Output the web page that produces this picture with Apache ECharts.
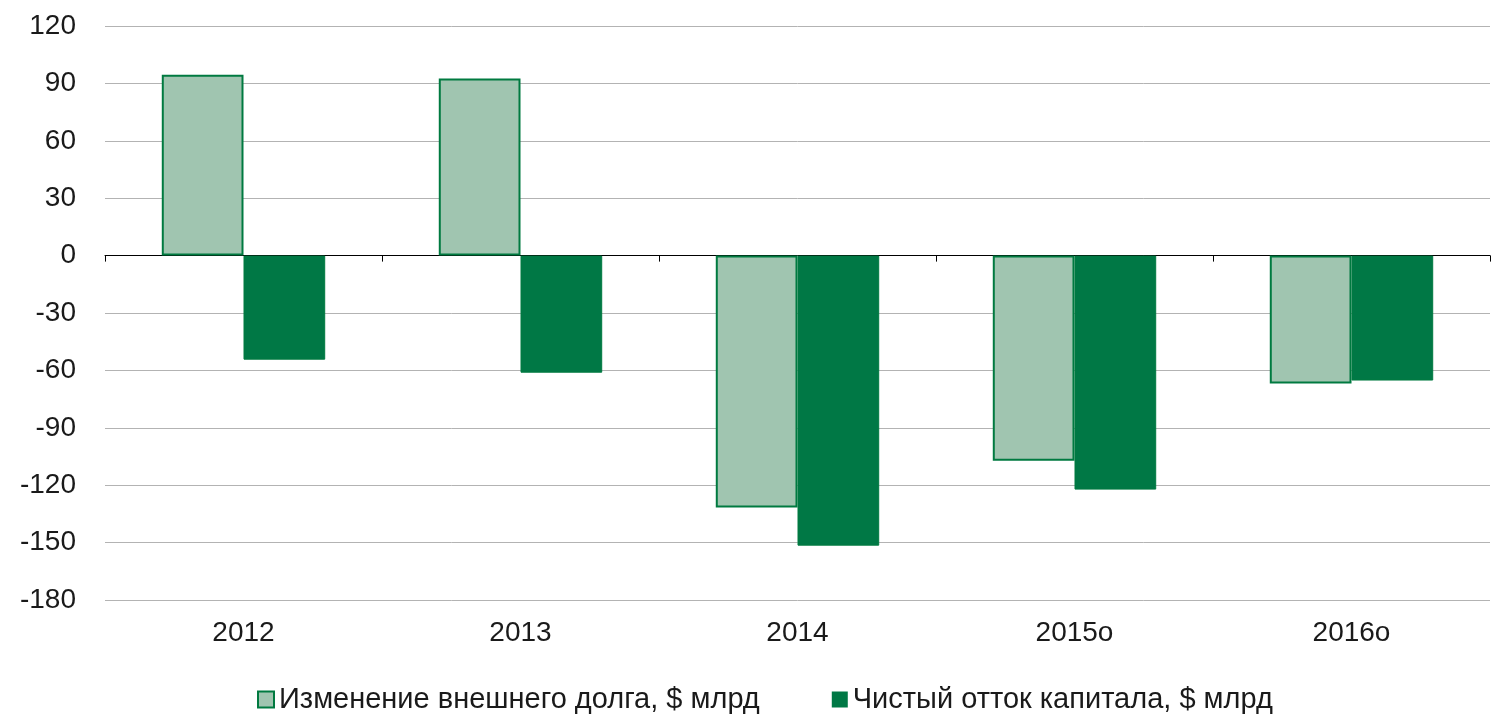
<!DOCTYPE html>
<html>
<head>
<meta charset="utf-8">
<script src="https://cdn.jsdelivr.net/npm/echarts@6/dist/echarts.min.js"></script>
<style>
  html, body { margin: 0; padding: 0; background: #fff; }
  #chart { width: 1497px; height: 717px; }
</style>
</head>
<body>
<div id="chart"></div>
<script>
'use strict';

// ---- data ----
const years = ['2012', '2013', '2014', '2015о', '2016о'];
const debtChange = [94.5, 92.5, -131.7, -107.2, -66.9];
const capitalOutflow = [-54.4, -61.2, -151.6, -122.3, -65.3];
const seriesNames = ['Изменение внешнего долга, $ млрд', 'Чистый отток капитала, $ млрд'];

// ---- palette ----
const C = { light: '#a0c5b0', dark: '#007845', edge: '#007a40', grid: '#b3b3b3', ink: '#1a1a1a' };
const font = 'Liberation Sans, Arial, sans-serif';

const chart = echarts.init(document.getElementById('chart'));
chart.setOption({
  animation: false,
  textStyle: { fontFamily: font },
  grid: { left: 105, right: 7, top: 26, bottom: 117 },
  legend: {
    bottom: -2, left: 252, itemGap: 72, itemWidth: 16, itemHeight: 16,
    textStyle: { fontFamily: font, fontSize: 29, color: C.ink },
    data: [
      { name: seriesNames[0], icon: 'rect', itemStyle: { color: C.light, borderColor: C.edge, borderWidth: 2 } },
      { name: seriesNames[1], icon: 'rect', itemStyle: { color: C.dark, borderWidth: 0 } },
    ],
  },
  xAxis: [
    { type: 'category', data: years,
      axisLine: { onZero: true, lineStyle: { color: '#000', width: 1 } },
      axisTick: { show: true, length: 6, lineStyle: { color: '#000' } },
      axisLabel: { show: false } },
    { type: 'category', data: years, position: 'bottom',
      axisLine: { show: false, onZero: false }, axisTick: { show: false },
      axisLabel: { fontFamily: font, fontSize: 28, color: C.ink, margin: 19 } },
  ],
  yAxis: {
    type: 'value', min: -180, max: 120, interval: 30,
    axisLine: { show: false }, axisTick: { show: false },
    axisLabel: { fontFamily: font, fontSize: 28, color: C.ink, margin: 29 },
    splitLine: { lineStyle: { color: C.grid, width: 1 } },
  },
  series: [
    { name: seriesNames[0], type: 'bar', data: debtChange, barGap: '0%', barCategoryGap: '41%',
      itemStyle: { color: C.light, borderColor: C.edge, borderWidth: 2 } },
    { name: seriesNames[1], type: 'bar', data: capitalOutflow,
      itemStyle: { color: C.dark, borderColor: C.edge, borderWidth: 1 } },
  ],
});
</script>
</body>
</html>
